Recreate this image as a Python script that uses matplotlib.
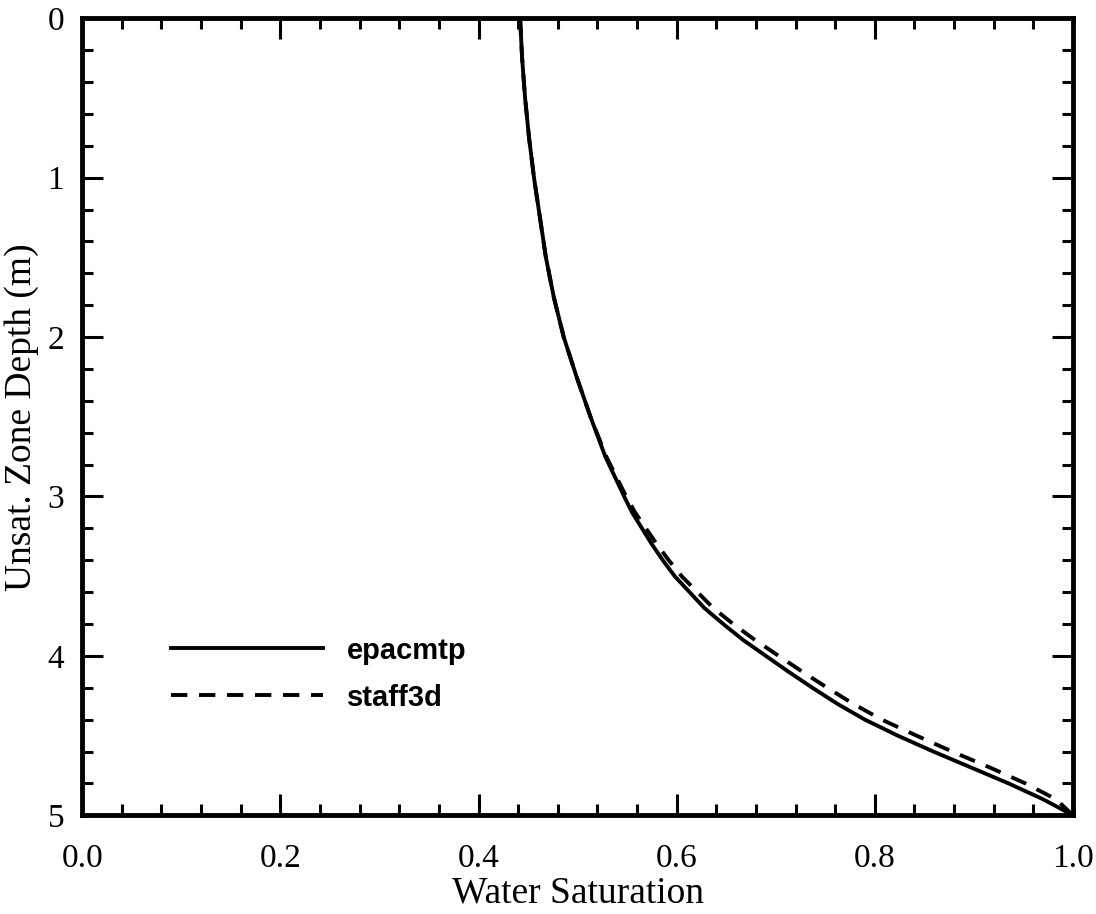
import numpy as np
import matplotlib
matplotlib.use("Agg")
import matplotlib.pyplot as plt
from matplotlib.ticker import MultipleLocator, FormatStrFormatter

# depth below surface (m) and water saturation for the two codes
depth = [0.0, 0.25, 0.5, 0.75, 1.0, 1.25, 1.5, 1.75, 2.0, 2.25, 2.5, 2.75,
         3.0, 3.1, 3.2, 3.3, 3.4, 3.5, 3.6, 3.7, 3.8, 3.9,
         4.0, 4.1, 4.2, 4.3, 4.4, 4.5, 4.6, 4.7, 4.8, 4.9, 5.0]
epacmtp = [0.442, 0.444, 0.447, 0.451, 0.456, 0.462, 0.468, 0.476, 0.486, 0.499, 0.513, 0.528,
           0.547, 0.555, 0.565, 0.575, 0.586, 0.598, 0.613, 0.628, 0.647, 0.667,
           0.690, 0.713, 0.737, 0.762, 0.790, 0.823, 0.859, 0.897, 0.935, 0.970, 1.0]
staff3d = [0.442, 0.444, 0.447, 0.451, 0.456, 0.462, 0.468, 0.476, 0.486, 0.499, 0.513, 0.529,
           0.549, 0.558, 0.569, 0.580, 0.592, 0.605, 0.621, 0.637, 0.657, 0.679,
           0.703, 0.727, 0.752, 0.778, 0.807, 0.842, 0.878, 0.916, 0.952, 0.983, 1.0]

serif = "Liberation Serif"

fig = plt.figure(figsize=(10.96, 9.14), dpi=100)
ax = fig.add_axes([0.075, 0.108, 0.904, 0.872])

ax.plot(epacmtp, depth, color="black", linewidth=2.8, label="epacmtp")
ax.plot(staff3d, depth, color="black", linewidth=2.8, dashes=(4.2, 3.0), label="staff3d")

ax.set_xlim(0.0, 1.0)
ax.set_ylim(5, 0)

ax.xaxis.set_major_locator(MultipleLocator(0.2))
ax.xaxis.set_minor_locator(MultipleLocator(0.04))
ax.yaxis.set_major_locator(MultipleLocator(1))
ax.yaxis.set_minor_locator(MultipleLocator(0.2))
ax.xaxis.set_major_formatter(FormatStrFormatter("%.1f"))
ax.yaxis.set_major_formatter(FormatStrFormatter("%d"))

ax.tick_params(which="both", direction="in", top=True, right=True, width=2.2)
ax.tick_params(which="major", length=15)
ax.tick_params(which="minor", length=8)
ax.tick_params(axis="x", which="major", pad=20)
ax.tick_params(axis="y", which="major", pad=13)
for lab in ax.get_xticklabels() + ax.get_yticklabels():
    lab.set_fontfamily(serif)
    lab.set_fontsize(24)

for sp in ax.spines.values():
    sp.set_linewidth(3.5)

ax.set_xlabel("Water Saturation", fontfamily=serif, fontsize=27, labelpad=2)
ax.set_ylabel("Unsat. Zone Depth (m)", fontfamily=serif, fontsize=27, labelpad=6)

leg = ax.legend(loc="upper left", bbox_to_anchor=(0.063, 0.257), frameon=False,
                handlelength=5.2, handletextpad=0.85, labelspacing=0.65,
                prop={"family": "Liberation Sans", "weight": "bold", "size": 21})

fig.savefig("out.png", dpi=100)
